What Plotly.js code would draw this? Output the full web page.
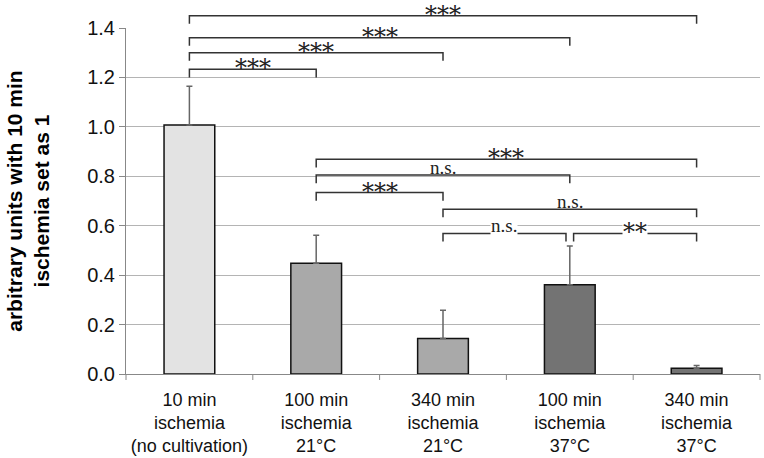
<!DOCTYPE html>
<html>
<head>
<meta charset="utf-8">
<script src="https://cdn.plot.ly/plotly-3.0.1.min.js"></script>
<style>html,body{margin:0;padding:0;background:#fff;}#chart{width:764px;height:458px;}</style>
</head>
<body>
<div id="chart"></div>
<script>
// ---- data ----
const categories = [
  '10 min<br>ischemia<br>(no cultivation)',
  '100 min<br>ischemia<br>21°C',
  '340 min<br>ischemia<br>21°C',
  '100 min<br>ischemia<br>37°C',
  '340 min<br>ischemia<br>37°C'
];
const values = [1.008, 0.448, 0.144, 0.361, 0.023];
const errors = [0.156, 0.113, 0.114, 0.157, 0.011];
const barColors = ['#e3e3e3', '#a9a9a9', '#a9a9a9', '#737373', '#737373'];
// significance brackets
const bracketFrom   = [0, 0, 0, 0, 1, 1, 1, 2, 2, 3];
const bracketTo     = [4, 3, 2, 1, 4, 3, 2, 4, 3, 4];
const bracketLevel  = [1.450, 1.361, 1.300, 1.233, 0.869, 0.805, 0.734, 0.667, 0.569, 0.569];
const bracketLabel  = ['***', '***', '***', '***', '***', 'n.s.', '***', 'n.s.', 'n.s.', '**'];
const bracketFromOff = [0, 0, 0, 0, 0, 0, 0, 0, 0, 0.03];
const bracketToOff   = [0, 0, 0, 0, 0, 0, 0, 0, -0.03, 0];
const bracketWhiteBg = [false, false, false, false, false, false, false, false, true, true];

const yMax = 1.4;
const nCat = categories.length;
const xPaper = v => (v + 0.5) / nCat;
const yPaper = v => v / yMax;
const drop = 0.033;

const shapes = [];
const annotations = [];
for (let i = 0; i < bracketFrom.length; i++) {
  const x0 = xPaper(bracketFrom[i] + bracketFromOff[i]);
  const x1 = xPaper(bracketTo[i] + bracketToOff[i]);
  const yTop = yPaper(bracketLevel[i]);
  const yBot = yPaper(bracketLevel[i] - drop);
  shapes.push({
    type: 'path', xref: 'paper', yref: 'paper',
    path: `M ${x0} ${yBot} L ${x0} ${yTop} L ${x1} ${yTop} L ${x1} ${yBot}`,
    line: {color: '#333333', width: 1.5}
  });
  const isStar = bracketLabel[i].indexOf('*') === 0;
  annotations.push({
    xref: 'paper', yref: 'paper',
    x: (x0 + x1) / 2, y: yTop,
    xanchor: 'center', yanchor: 'bottom',
    yshift: isStar ? -14 : -4,
    text: bracketLabel[i], showarrow: false,
    font: isStar
      ? {family: '"DejaVu Serif", serif', size: 24, color: '#222'}
      : {family: '"Liberation Serif", "Times New Roman", serif', size: 19, color: '#222'},
    bgcolor: bracketWhiteBg[i] ? '#ffffff' : 'rgba(0,0,0,0)',
    borderpad: 0
  });
}
annotations.push({
  xref: 'paper', yref: 'paper', x: -0.155, y: 0.5,
  xanchor: 'center', yanchor: 'middle', textangle: -90,
  text: '<b>arbitrary units with 10 min<br>ischemia set as 1</b>',
  showarrow: false,
  font: {family: '"Liberation Sans", Arial, sans-serif', size: 21, color: '#000'}
});

const trace = {
  type: 'bar', x: [0, 1, 2, 3, 4], y: values,
  width: 0.4,
  marker: {color: barColors, line: {color: '#111', width: 1.5}},
  error_y: {type: 'data', symmetric: false, array: errors, arrayminus: errors.map(() => 0),
            color: '#666666', thickness: 1.5, width: 3},
  hoverinfo: 'none'
};

const boundaryTicks = [0, 1, 2, 3, 4, 5].map(k => ({
  type: 'line', xref: 'paper', yref: 'paper',
  x0: k / nCat, x1: k / nCat, y0: 0, y1: -6 / 346,
  line: {color: '#888', width: 1}
}));

const layout = {
  width: 764, height: 458,
  margin: {l: 126, r: 4, t: 28, b: 84},
  paper_bgcolor: '#fff', plot_bgcolor: '#fff',
  showlegend: false,
  font: {family: '"Liberation Sans", Arial, sans-serif', color: '#111'},
  xaxis: {
    type: 'linear', range: [-0.5, 4.5],
    tickvals: [0, 1, 2, 3, 4], ticktext: categories,
    showgrid: false, zeroline: false,
    showline: true, linecolor: '#888', linewidth: 1,
    ticks: '', ticklabelstandoff: 9, tickfont: {size: 18, color: '#111'}
  },
  yaxis: {
    range: [0, yMax], dtick: 0.2, tickformat: '.1f',
    showgrid: true, gridcolor: '#b4b4b4', gridwidth: 1,
    zeroline: false, showline: true, linecolor: '#888', linewidth: 1,
    ticks: 'outside', ticklen: 6, tickcolor: '#888',
    tickfont: {size: 20, color: '#111'}
  },
  shapes: shapes.concat(boundaryTicks),
  annotations: annotations
};

Plotly.newPlot('chart', [trace], layout, {displayModeBar: false, staticPlot: true});
</script>
</body>
</html>
